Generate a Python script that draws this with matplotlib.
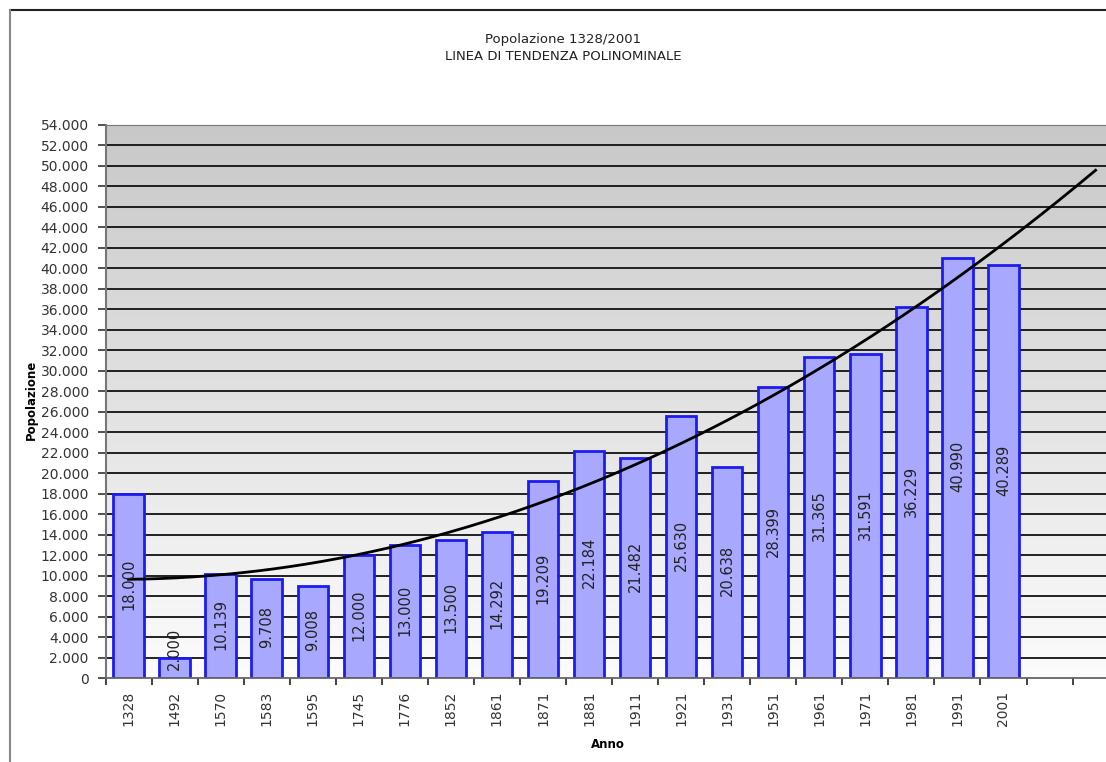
import numpy as np
import matplotlib
matplotlib.use("Agg")
import matplotlib.pyplot as plt
from matplotlib.lines import Line2D

years = ["1328", "1492", "1570", "1583", "1595", "1745", "1776", "1852", "1861", "1871",
         "1881", "1911", "1921", "1931", "1951", "1961", "1971", "1981", "1991", "2001"]
population = [18000, 2000, 10139, 9708, 9008, 12000, 13000, 13500, 14292, 19209,
              22184, 21482, 25630, 20638, 28399, 31365, 31591, 36229, 40990, 40289]
extra_periods = 2  # empty category slots on the axis (trend forecast)
trend_degree = 2

title = "Popolazione 1328/2001\nLINEA DI TENDENZA POLINOMINALE"
ylabel = "Popolazione"
xlabel = "Anno"

W, H = 1106, 762
fig = plt.figure(figsize=(W / 100, H / 100), dpi=100)
fig.patch.set_facecolor("white")

left = 105.5 / W
bottom = (H - 678) / H
height = (678 - 125) / H
ncat = len(years) + extra_periods
cat_w = 46.05
width = ncat * cat_w / W
ax = fig.add_axes([left, bottom, width, height])

x = np.arange(len(years))
ax.set_xlim(-0.5, ncat - 0.5)
ax.set_ylim(0, 54000)

# gradient background
grad = np.linspace(0, 1, 256).reshape(-1, 1)
top_c = np.array([200, 200, 200]) / 255
bot_c = np.array([252, 252, 252]) / 255
img = bot_c[None, None, :] * (1 - grad[:, :, None]) + top_c[None, None, :] * grad[:, :, None]
ax.imshow(img, extent=[-0.5, ncat - 0.5, 0, 54000], origin="lower", aspect="auto", zorder=0)

# gridlines
for v in range(2000, 54001, 2000):
    ax.axhline(v, color="#111111", lw=1.3, zorder=1)

bars = ax.bar(x, population, width=0.66, color="#a8a8ff", edgecolor="#1c1cf0",
              linewidth=2, zorder=2)

# value labels
for xi, v in zip(x, population):
    lbl = f"{v:,}".replace(",", ".")
    yv = max(v / 2 + 150, 2850)
    ax.text(xi, yv, lbl, rotation=90, ha="center", va="center",
            fontsize=10.5, color="#222222", zorder=4)

# polynomial trendline (Excel-like), extended forward
coef = np.polyfit(x + 1, population, trend_degree)
xt = np.linspace(1, len(years) + extra_periods, 300)
ax.plot(xt - 1, np.polyval(coef, xt), color="black", lw=2, zorder=3)

# axes styling
ax.set_yticks(np.arange(0, 54001, 2000))
ax.set_yticklabels([f"{v:,}".replace(",", ".") for v in range(0, 54001, 2000)],
                   fontsize=10, color="#333333")
ax.set_xticks(np.arange(-0.5, ncat, 1), minor=False)
ax.set_xticklabels([])
ax.set_xticks(x, minor=True)
ax.set_xticklabels(years, minor=True, rotation=90, fontsize=10, color="#333333")
ax.tick_params(axis="x", which="minor", length=0, pad=9)
ax.tick_params(axis="x", which="major", length=5, width=1.2, color="#222222")
ax.tick_params(axis="y", length=6, width=1.2, color="#333333", pad=6)
for s in ["top", "right"]:
    ax.spines[s].set_visible(False)
ax.spines["left"].set_color("#777777")
ax.spines["left"].set_linewidth(1.5)
ax.spines["bottom"].set_color("#666666")
ax.spines["bottom"].set_linewidth(1.3)
ax.spines["top"].set_visible(True)
ax.spines["top"].set_color("#777777")

fig.text(563 / W, 1 - 48 / H, title, ha="center", va="center", fontsize=9.5,
         color="#222222", linespacing=1.35)
fig.text(31 / W, 1 - 400 / H, ylabel, rotation=90, ha="center", va="center",
         fontsize=8.5, fontweight="bold", color="black")
fig.text(608 / W, 1 - 745 / H, xlabel, ha="center", va="center",
         fontsize=8.5, fontweight="bold", color="black")

# outer chart-area border (partly visible)
fig.add_artist(Line2D([10 / W, 1], [1 - 10 / H, 1 - 10 / H], color="#222222", lw=1.5))
fig.add_artist(Line2D([10 / W, 10 / W], [0, 1 - 10 / H], color="#888888", lw=1.5))

fig.savefig("out.png", dpi=100)
